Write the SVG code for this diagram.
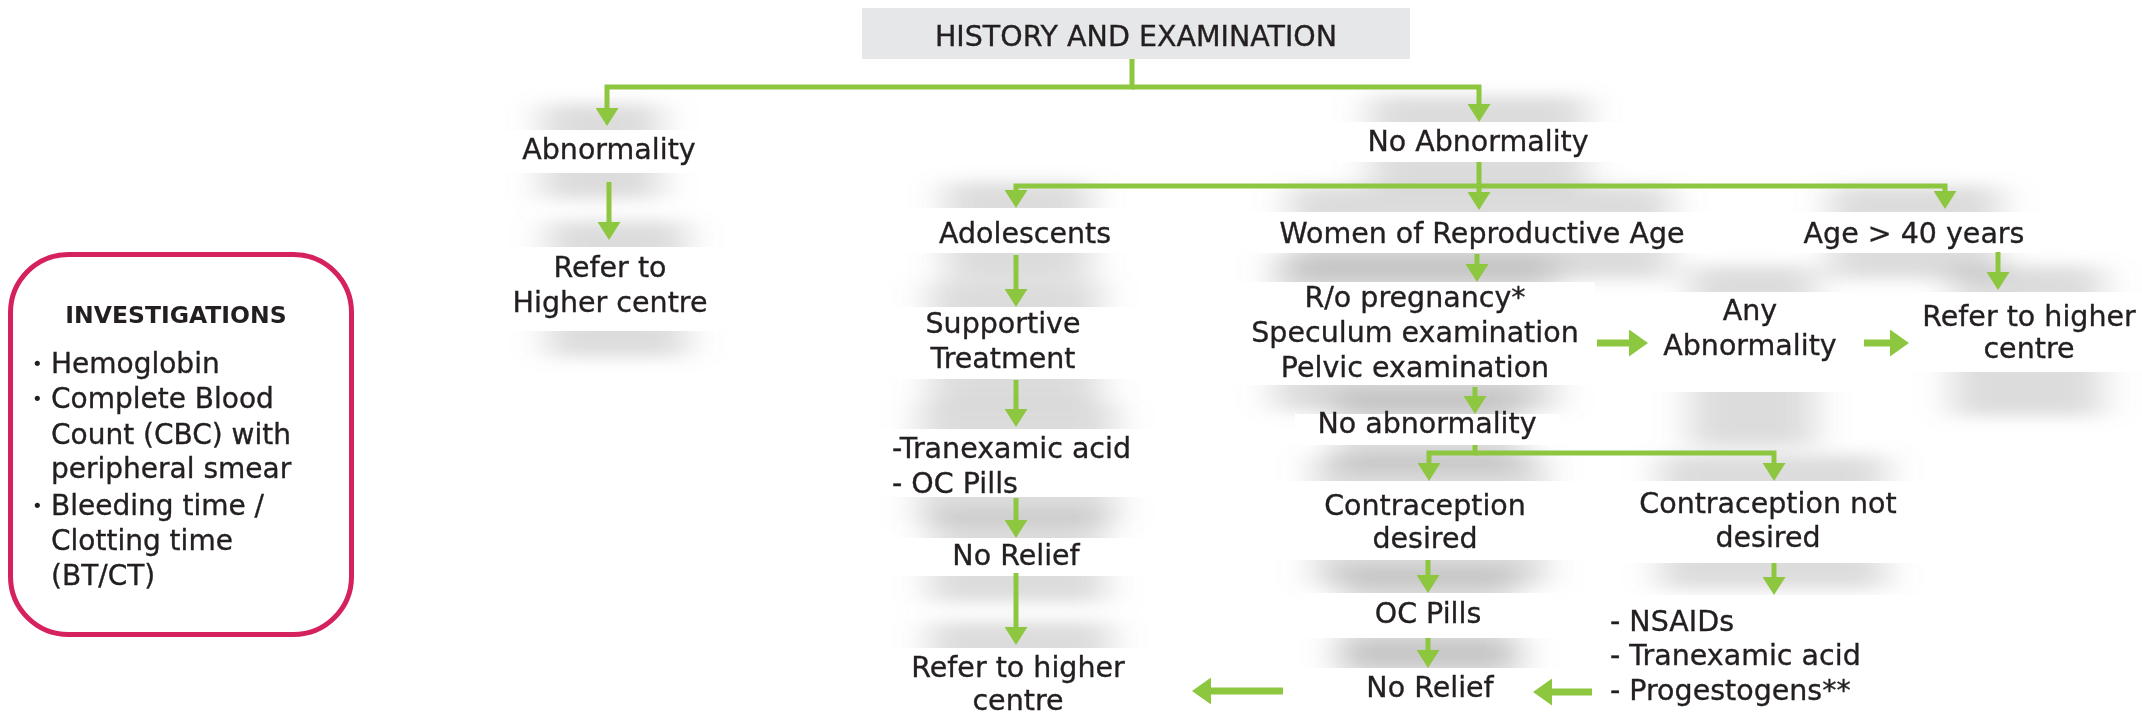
<svg xmlns="http://www.w3.org/2000/svg" width="2142" height="715" viewBox="0 0 2142 715">
<defs>
<style>
.t,.tl,.hd,.it{font-family:"DejaVu Sans","Liberation Sans",sans-serif;font-size:28.5px;fill:#231f20;stroke:#231f20;stroke-width:.35}
.t,.hd{text-anchor:middle}
.tl{text-anchor:start}
.it{font-size:28px}
.inv{font-family:"DejaVu Sans","Liberation Sans",sans-serif;font-size:23.5px;font-weight:bold;fill:#231f20;text-anchor:middle}
.bu{font-family:"DejaVu Sans","Liberation Sans",sans-serif;font-size:18px;fill:#231f20}
.box{fill:#ffffff}
.sh{fill:#8a8a8a;opacity:.3}
.c{fill:none;stroke:#8dc63f;stroke-width:5}
.cb{fill:none;stroke:#8dc63f;stroke-width:7}
</style>
<filter id="blur" x="-10%" y="-10%" width="120%" height="120%"><feGaussianBlur stdDeviation="18 8"/></filter>
<marker id="ah" markerUnits="userSpaceOnUse" markerWidth="18" markerHeight="23" refX="3" refY="11.5" orient="auto"><path d="M0,0 L18,11.5 L0,23 Z" fill="#8dc63f"/></marker>
<marker id="ahb" markerUnits="userSpaceOnUse" markerWidth="19" markerHeight="27" refX="3" refY="13.5" orient="auto"><path d="M0,0 L19,13.5 L0,27 Z" fill="#8dc63f"/></marker>
</defs>
<rect width="2142" height="715" fill="#ffffff"/>

<g id="shadows" filter="url(#blur)">
<rect class="sh" x="542" y="104" width="118" height="95"/>
<rect class="sh" x="548" y="221" width="138" height="136"/>
<rect class="sh" x="1370" y="96" width="216" height="92"/>
<rect class="sh" x="945" y="182" width="145" height="97"/>
<rect class="sh" x="930" y="281" width="170" height="124"/>
<rect class="sh" x="920" y="403" width="195" height="120"/>
<rect class="sh" x="930" y="512" width="175" height="90"/>
<rect class="sh" x="930" y="622" width="180" height="110"/>
<rect class="sh" x="1290" y="186" width="380" height="93"/>
<rect class="sh" x="1830" y="186" width="170" height="93"/>
<rect class="sh" x="1275" y="256" width="280" height="155"/>
<rect class="sh" x="1690" y="266" width="125" height="180"/>
<rect class="sh" x="1952" y="266" width="150" height="150"/>
<rect class="sh" x="1335" y="388" width="185" height="83"/>
<rect class="sh" x="1315" y="455" width="230" height="131"/>
<rect class="sh" x="1660" y="455" width="225" height="134"/>
<rect class="sh" x="1340" y="567" width="175" height="97"/>
<rect class="sh" x="1340" y="642" width="180" height="99"/>
</g>

<g id="n-header"><rect x="862" y="8" width="548" height="51" fill="#e6e7e8"/><text class="hd" x="1136" y="46">HISTORY AND EXAMINATION</text></g>
<g id="n-abnormality"><rect class="box" x="502" y="130" width="198" height="43"/><text class="t" x="609" y="159">Abnormality</text></g>
<g id="n-refer-left"><rect class="box" x="508" y="247" width="218" height="84"/><text class="t" x="610" y="277">Refer to</text><text class="t" x="610" y="312">Higher centre</text></g>
<g id="n-investigations"><rect x="10.5" y="254.5" width="341" height="380" rx="58" fill="#ffffff" stroke="#d6215f" stroke-width="5"/>
<text class="inv" x="176" y="323">INVESTIGATIONS</text>
<text class="bu" x="32" y="370">•</text><text class="it" x="51" y="373">Hemoglobin</text>
<text class="bu" x="32" y="405">•</text><text class="it" x="51" y="408">Complete Blood</text>
<text class="it" x="51" y="444">Count (CBC) with</text>
<text class="it" x="51" y="478">peripheral smear</text>
<text class="bu" x="32" y="512">•</text><text class="it" x="51" y="515">Bleeding time /</text>
<text class="it" x="51" y="550">Clotting time</text>
<text class="it" x="51" y="585">(BT/CT)</text>
</g>
<g id="n-no-abnormality"><rect class="box" x="1330" y="122" width="296" height="40"/><text class="t" x="1478" y="151">No Abnormality</text></g>
<g id="n-adolescents"><rect class="box" x="905" y="208" width="225" height="45"/><text class="t" x="1025" y="243">Adolescents</text></g>
<g id="n-supportive"><rect class="box" x="890" y="307" width="250" height="72"/><text class="t" x="1003" y="333">Supportive</text><text class="t" x="1003" y="368">Treatment</text></g>
<g id="n-tranexamic"><rect class="box" x="880" y="429" width="275" height="68"/><text class="tl" x="892" y="458">-Tranexamic acid</text><text class="tl" x="892" y="493">- OC Pills</text></g>
<g id="n-norelief-left"><rect class="box" x="890" y="538" width="255" height="38"/><text class="t" x="1016" y="565">No Relief</text></g>
<g id="n-refer-bottom"><rect class="box" x="890" y="648" width="260" height="67"/><text class="t" x="1018" y="677">Refer to higher</text><text class="t" x="1018" y="710">centre</text></g>
<g id="n-women"><rect class="box" x="1250" y="212" width="460" height="41"/><text class="t" x="1482" y="243">Women of Reproductive Age</text></g>
<g id="n-age40"><rect class="box" x="1790" y="212" width="250" height="41"/><text class="t" x="1914" y="243">Age &gt; 40 years</text></g>
<g id="n-ro"><rect class="box" x="1235" y="282" width="360" height="103"/><text class="t" x="1415" y="307">R/o pregnancy*</text><text class="t" x="1415" y="342">Speculum examination</text><text class="t" x="1415" y="377">Pelvic examination</text></g>
<g id="n-any"><rect class="box" x="1650" y="292" width="205" height="100"/><text class="t" x="1750" y="320">Any</text><text class="t" x="1750" y="355">Abnormality</text></g>
<g id="n-refer-right"><rect class="box" x="1912" y="292" width="230" height="80"/><text class="t" x="2029" y="326">Refer to higher</text><text class="t" x="2029" y="358">centre</text></g>
<g id="n-no-abn2"><rect class="box" x="1295" y="414" width="265" height="31"/><text class="t" x="1427" y="433">No abnormality</text></g>
<g id="n-contra"><rect class="box" x="1275" y="481" width="310" height="79"/><text class="t" x="1425" y="515">Contraception</text><text class="t" x="1425" y="548">desired</text></g>
<g id="n-contra-not"><rect class="box" x="1620" y="481" width="305" height="82"/><text class="t" x="1768" y="513">Contraception not</text><text class="t" x="1768" y="547">desired</text></g>
<g id="n-ocpills"><rect class="box" x="1300" y="593" width="255" height="45"/><text class="t" x="1428" y="623">OC Pills</text></g>
<g id="n-norelief-right"><rect class="box" x="1300" y="668" width="260" height="47"/><text class="t" x="1430" y="697">No Relief</text></g>
<g id="n-nsaids"><rect class="box" x="1590" y="595" width="320" height="120"/><text class="tl" x="1610" y="631">- NSAIDs</text><text class="tl" x="1610" y="665">- Tranexamic acid</text><text class="tl" x="1610" y="700">- Progestogens**</text></g>

<g id="connectors">
<path class="c" d="M1132,59 V87 H607 V111" marker-end="url(#ah)"/>
<path class="c" d="M1132,87 H1479 V107" marker-end="url(#ah)"/>
<path class="c" d="M609,182 V225" marker-end="url(#ah)"/>
<path class="c" d="M1479,162 V195" marker-end="url(#ah)"/>
<path class="c" d="M1479,186 H1016 V193" marker-end="url(#ah)"/>
<path class="c" d="M1479,186 H1945 V194" marker-end="url(#ah)"/>
<path class="c" d="M1016,255 V292" marker-end="url(#ah)"/>
<path class="c" d="M1016,380 V412" marker-end="url(#ah)"/>
<path class="c" d="M1016,498 V523" marker-end="url(#ah)"/>
<path class="c" d="M1016,573 V630" marker-end="url(#ah)"/>
<path class="c" d="M1477,254 V267" marker-end="url(#ah)"/>
<path class="c" d="M1998,252 V275" marker-end="url(#ah)"/>
<path class="cb" d="M1597,343 H1632" marker-end="url(#ahb)"/>
<path class="cb" d="M1864,343 H1893" marker-end="url(#ahb)"/>
<path class="c" d="M1475,387 V399" marker-end="url(#ah)"/>
<path class="c" d="M1475,445 V453 H1429 V466" marker-end="url(#ah)"/>
<path class="c" d="M1475,453 H1774 V466" marker-end="url(#ah)"/>
<path class="c" d="M1428,560 V578" marker-end="url(#ah)"/>
<path class="c" d="M1774,563 V580" marker-end="url(#ah)"/>
<path class="c" d="M1428,638 V653" marker-end="url(#ah)"/>
<path class="cb" d="M1592,692 H1549" marker-end="url(#ahb)"/>
<path class="cb" d="M1283,691 H1208" marker-end="url(#ahb)"/>
</g>
</svg>
